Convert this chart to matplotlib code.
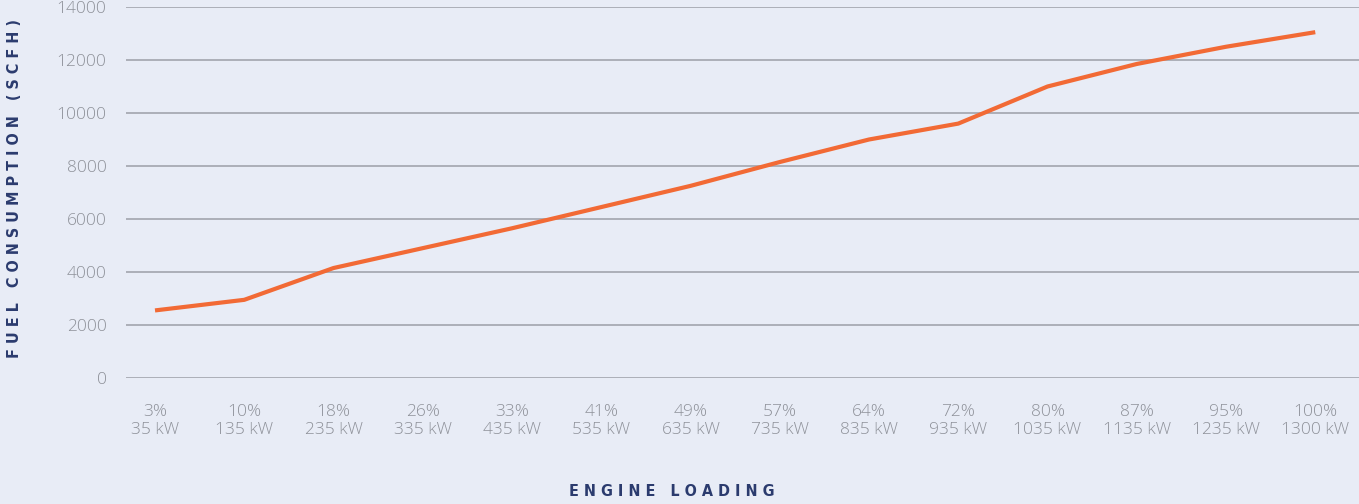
import matplotlib.pyplot as plt

# data
load_pct = ["3%", "10%", "18%", "26%", "33%", "41%", "49%", "57%", "64%", "72%", "80%", "87%", "95%", "100%"]
load_kw = ["35 kW", "135 kW", "235 kW", "335 kW", "435 kW", "535 kW", "635 kW", "735 kW",
           "835 kW", "935 kW", "1035 kW", "1135 kW", "1235 kW", "1300 kW"]
fuel_scfh = [2550, 2950, 4150, 4900, 5650, 6450, 7250, 8150, 9000, 9600, 11000, 11850, 12500, 13050]
y_ticks = [0, 2000, 4000, 6000, 8000, 10000, 12000, 14000]

bg = "#e8ecf6"
navy = "#2b3b6e"
grey_txt = "#8e9199"

plt.rcParams['font.family'] = ['Open Sans', 'DejaVu Sans']

fig = plt.figure(figsize=(13.59, 5.04), dpi=100, facecolor=bg)
W, H = 1359, 504
ax = fig.add_axes([126 / W, 1 - 378 / H, (W - 126) / W, 371 / H])
ax.set_facecolor(bg)

xs = list(range(len(fuel_scfh)))
ax.plot(xs, fuel_scfh, color="#f26a35", linewidth=3.0, solid_capstyle="butt", zorder=3)

ax.set_ylim(0, 14000)
ax.set_xlim(-0.325, 13.49)
ax.set_yticks(y_ticks)
ax.set_yticklabels([str(v) for v in y_ticks])
ax.set_xticks(xs)
ax.set_xticklabels([p + "\n" + k for p, k in zip(load_pct, load_kw)], linespacing=1.15)
ax.grid(axis="y", color="#a2a5ad", linewidth=1.2)
ax.set_axisbelow(True)
for s in ax.spines.values():
    s.set_visible(False)
ax.tick_params(axis="both", length=0, labelcolor=grey_txt, labelsize=12.5)
ax.tick_params(axis="y", pad=14)
ax.tick_params(axis="x", pad=19)
for t in ax.get_yticklabels() + ax.get_xticklabels():
    t.set_fontweight("light")

fig.text(15 / W, 1 - 188 / H, "F U E L   C O N S U M P T I O N   ( S C F H )",
         rotation=90, ha="center", va="center", color=navy, fontsize=11.5,
         fontweight="bold", family=["DejaVu Sans"], fontstretch="condensed")
fig.text(672 / W, 1 - 491 / H, "E N G I N E   L O A D I N G",
         ha="center", va="center", color=navy, fontsize=11.5,
         fontweight="bold", family=["DejaVu Sans"], fontstretch="condensed")

fig.savefig("out.png", dpi=100, facecolor=bg)
